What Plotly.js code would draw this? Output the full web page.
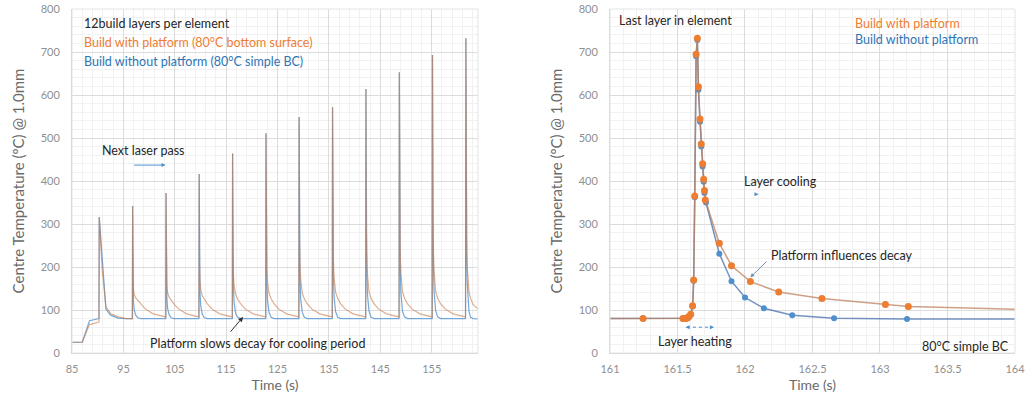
<!DOCTYPE html>
<html>
<head>
<meta charset="utf-8">
<script src="https://cdn.plot.ly/plotly-3.0.1.min.js"></script>
<style>
html,body{margin:0;padding:0;background:#fff;}
#chart{width:1026px;height:398px;}
</style>
</head>
<body>
<div id="chart"></div>
<script>
// ---------- Left chart: full build (12 layers) ----------
const leftTime = [
  85, 87, 88.4, 89.0, 89.8, 90.25,
  90.3, 90.6, 90.9, 91.6, 92.5, 94.0, 95.5,
  96.75, 96.8, 96.86, 96.96, 97.1, 97.4, 97.8, 98.4, 99.3, 100.8,
  103.25, 103.3, 103.36, 103.46, 103.6, 103.9, 104.3, 104.9, 105.8, 107.3,
  109.7, 109.75, 109.81, 109.91, 110.05, 110.35, 110.75, 111.35, 112.25, 113.75,
  116.2, 116.25, 116.31, 116.41, 116.55, 116.85, 117.25, 117.85, 118.75, 120.25,
  122.7, 122.75, 122.81, 122.91, 123.05, 123.35, 123.75, 124.35, 125.25, 126.75,
  129.15, 129.2, 129.26, 129.36, 129.5, 129.8, 130.2, 130.8, 131.7, 133.2,
  135.65, 135.7, 135.76, 135.86, 136.0, 136.3, 136.7, 137.3, 138.2, 139.7,
  142.15, 142.2, 142.26, 142.36, 142.5, 142.8, 143.2, 143.8, 144.7, 146.2,
  148.65, 148.7, 148.76, 148.86, 149.0, 149.3, 149.7, 150.3, 151.2, 152.7,
  155.1, 155.15, 155.21, 155.31, 155.45, 155.75, 156.15, 156.75, 157.65, 159.15,
  161.58, 161.65, 161.71, 161.81, 161.9, 162.04, 162.25, 162.57, 163.04, 164.3
];
const leftWithPlatform = [
  25, 25, 66, 68, 70, 72,
  316, 240, 190, 108, 92, 84, 80,
  80, 342, 172, 148, 136, 128, 122, 113, 102, 91,
  84, 372, 186, 156, 140, 130, 123, 113, 102, 91,
  84, 416, 205, 168, 148, 133, 124, 114, 102, 91,
  84, 464, 228, 182, 157, 136, 125, 114, 102, 91,
  84, 511, 250, 196, 165, 139, 126, 114, 102, 91,
  84, 549, 268, 210, 172, 140, 126, 114, 102, 91,
  84, 572, 280, 218, 176, 141, 127, 114, 102, 91,
  84, 614, 300, 230, 182, 142, 127, 114, 102, 91,
  84, 653, 318, 240, 187, 143, 127, 114, 102, 91,
  84, 693, 338, 248, 193, 144, 127, 114, 102, 91,
  84, 732, 356, 255, 203, 166, 142, 127, 113, 99
];
const leftWithoutPlatform = [
  25, 25, 75, 77, 78, 80,
  316, 262, 225, 102, 88, 81, 80,
  80, 342, 168, 120, 100, 88, 82, 80, 80, 80,
  80, 372, 180, 128, 104, 89, 82, 80, 80, 80,
  80, 416, 200, 140, 110, 90, 82, 80, 80, 80,
  80, 464, 222, 152, 116, 92, 83, 80, 80, 80,
  80, 511, 245, 165, 122, 94, 83, 80, 80, 80,
  80, 549, 262, 176, 127, 95, 83, 80, 80, 80,
  80, 572, 274, 182, 130, 96, 83, 80, 80, 80,
  80, 614, 294, 195, 136, 97, 83, 80, 80, 80,
  80, 653, 312, 208, 141, 98, 84, 80, 80, 80,
  80, 693, 332, 220, 146, 99, 84, 80, 80, 80,
  80, 732, 350, 231, 167, 125, 97, 83, 80, 79
];

// ---------- Right chart: last layer in element ----------
const rightTimeWith = [160.9, 161.245, 161.54, 161.555, 161.565, 161.575, 161.585, 161.598, 161.612, 161.62, 161.628, 161.638, 161.647, 161.655, 161.667, 161.676, 161.686, 161.694, 161.700, 161.706, 161.81, 161.90, 162.04, 162.25, 162.57, 163.04, 163.21, 164.3];
const rightTempWith = [80, 80, 80, 80, 81, 82, 85, 90, 110, 170, 365, 695, 732, 619, 544, 486, 440, 404, 378, 356, 255, 203, 166, 142, 127, 113, 108, 99];
const rightTimeWithout = [160.9, 161.245, 161.54, 161.555, 161.565, 161.575, 161.585, 161.598, 161.612, 161.62, 161.628, 161.638, 161.647, 161.655, 161.667, 161.676, 161.686, 161.694, 161.700, 161.711, 161.81, 161.90, 162.0, 162.14, 162.35, 162.66, 163.2, 164.3];
const rightTempWithout = [80, 80, 80, 80, 80, 81, 84, 89, 108, 168, 362, 690, 728, 612, 538, 480, 434, 398, 372, 350, 231, 167, 129, 104, 88, 81, 79, 79];

const leftTicks = [85, 95, 105, 115, 125, 135, 145, 155];
const rightTicks = [161, 161.5, 162, 162.5, 163, 163.5, 164];
const yTicks = [0, 100, 200, 300, 400, 500, 600, 700, 800];

const FONT = 'Lato, "Open Sans", sans-serif';
const ORANGE = '#ED7D31';
const BLUE = '#4F8FCB';
const TXT = '#262626';

const traces = [
  {x: leftTime, y: leftWithoutPlatform, xaxis: 'x', yaxis: 'y', mode: 'lines', name: 'Build without platform',
   line: {color: 'rgba(70,140,205,0.75)', width: 1.2}},
  {x: leftTime, y: leftWithPlatform, xaxis: 'x', yaxis: 'y', mode: 'lines', name: 'Build with platform',
   line: {color: 'rgba(200,120,70,0.6)', width: 1.2}},
  {x: rightTimeWithout, y: rightTempWithout, xaxis: 'x2', yaxis: 'y2', mode: 'lines+markers', name: 'Build without platform',
   line: {color: 'rgba(70,110,170,0.75)', width: 1.5}, marker: {color: BLUE, size: 6}},
  {x: rightTimeWith, y: rightTempWith, xaxis: 'x2', yaxis: 'y2', mode: 'lines+markers', name: 'Build with platform',
   line: {color: 'rgba(190,130,95,0.75)', width: 1.5}, marker: {color: ORANGE, size: 7}}
];

const axisCommon = {
  showgrid: true, gridcolor: '#dcdcdc', gridwidth: 1,
  zeroline: false, ticks: '', tickfont: {family: FONT, size: 11, color: '#8f8f8f'},
  linecolor: '#d0d0d0', fixedrange: true
};

const layout = {
  width: 1026, height: 398,
  margin: {l: 72, r: 11, t: 9, b: 45},
  paper_bgcolor: '#ffffff', plot_bgcolor: '#ffffff',
  showlegend: false,
  font: {family: FONT, color: TXT},
  xaxis: Object.assign({}, axisCommon, {
    domain: [0, 0.4305], range: [85, 164], tickmode: 'array', tickvals: leftTicks,
    minor: {showgrid: true, gridcolor: '#f1f1f1', dtick: 2, tick0: 85},
    showline: true, ticklabelstandoff: 6,
    title: {text: 'Time (s)', font: {family: FONT, size: 14, color: '#6a6a6a'}, standoff: 5}
  }),
  yaxis: Object.assign({}, axisCommon, {
    domain: [0, 1], range: [0, 800], tickmode: 'array', tickvals: yTicks,
    minor: {showgrid: true, gridcolor: '#f1f1f1', dtick: 20},
    ticklabelstandoff: 9,
    title: {text: 'Centre Temperature (ºC) @ 1.0mm', font: {family: FONT, size: 15, color: '#6a6a6a'}, standoff: 12}
  }),
  xaxis2: Object.assign({}, axisCommon, {
    domain: [0.5705, 1], range: [161, 164], tickmode: 'array', tickvals: rightTicks,
    minor: {showgrid: true, gridcolor: '#f1f1f1', dtick: 0.1, tick0: 161},
    showline: true, anchor: 'y2', ticklabelstandoff: 6,
    title: {text: 'Time (s)', font: {family: FONT, size: 14, color: '#6a6a6a'}, standoff: 5}
  }),
  yaxis2: Object.assign({}, axisCommon, {
    domain: [0, 1], range: [0, 800], tickmode: 'array', tickvals: yTicks, anchor: 'x2',
    minor: {showgrid: true, gridcolor: '#f1f1f1', dtick: 20},
    ticklabelstandoff: 9,
    title: {text: 'Centre Temperature (ºC) @ 1.0mm', font: {family: FONT, size: 15, color: '#6a6a6a'}, standoff: 12}
  }),
  annotations: [
    // left chart texts
    {xref: 'x', yref: 'y', x: 86.9, y: 767, text: '12build layers per element', showarrow: false, xanchor: 'left', font: {size: 12.5, color: TXT}},
    {xref: 'x', yref: 'y', x: 86.9, y: 723, text: 'Build with platform (80°C bottom surface)', showarrow: false, xanchor: 'left', font: {size: 12.5, color: ORANGE}},
    {xref: 'x', yref: 'y', x: 86.9, y: 679, text: 'Build without platform (80°C simple BC)', showarrow: false, xanchor: 'left', font: {size: 12.5, color: '#2E75B6'}},
    {xref: 'x', yref: 'y', x: 90.4, y: 472, text: 'Next laser pass', showarrow: false, xanchor: 'left', font: {size: 12.5, color: TXT}},
    {xref: 'x', yref: 'y', axref: 'x', ayref: 'y', x: 103.2, y: 437, ax: 96.8, ay: 437, text: '', showarrow: true,
     arrowhead: 2, arrowsize: 0.8, arrowwidth: 1, arrowcolor: '#4F8FCB'},
    {xref: 'x', yref: 'y', x: 99.8, y: 23, text: 'Platform slows decay for cooling period', showarrow: false, xanchor: 'left', font: {size: 12.5, color: TXT}},
    {xref: 'x', yref: 'y', axref: 'x', ayref: 'y', x: 118.3, y: 84, ax: 115.6, ay: 46, text: '', showarrow: true,
     arrowhead: 2, arrowsize: 1, arrowwidth: 1, arrowcolor: '#333333'},
    // right chart texts
    {xref: 'x2', yref: 'y2', x: 161.05, y: 774, text: 'Last layer in element', showarrow: false, xanchor: 'left', font: {size: 12.5, color: TXT}},
    {xref: 'x2', yref: 'y2', x: 162.8, y: 767, text: 'Build with platform', showarrow: false, xanchor: 'left', font: {size: 12.5, color: ORANGE}},
    {xref: 'x2', yref: 'y2', x: 162.8, y: 728, text: 'Build without platform', showarrow: false, xanchor: 'left', font: {size: 12.5, color: '#2E75B6'}},
    {xref: 'x2', yref: 'y2', x: 161.98, y: 400, text: 'Layer cooling', showarrow: false, xanchor: 'left', font: {size: 12.5, color: TXT}},
    {xref: 'x2', yref: 'y2', axref: 'x2', ayref: 'y2', x: 162.1, y: 369, ax: 162.06, ay: 369, text: '', showarrow: true,
     arrowhead: 2, arrowsize: 0.8, arrowwidth: 1, arrowcolor: '#4F8FCB'},
    {xref: 'x2', yref: 'y2', x: 162.18, y: 226, text: 'Platform influences decay', showarrow: false, xanchor: 'left', font: {size: 12.5, color: TXT}},
    {xref: 'x2', yref: 'y2', axref: 'x2', ayref: 'y2', x: 162.04, y: 176, ax: 162.17, ay: 216, text: '', showarrow: true,
     arrowhead: 2, arrowsize: 0.8, arrowwidth: 1, arrowcolor: '#6f8fb0'},
    {xref: 'x2', yref: 'y2', x: 161.34, y: 26, text: 'Layer heating', showarrow: false, xanchor: 'left', font: {size: 12.5, color: TXT}},
    {xref: 'x2', yref: 'y2', axref: 'x2', ayref: 'y2', x: 161.56, y: 60, ax: 161.6, ay: 60, text: '', showarrow: true,
     arrowhead: 2, arrowsize: 0.8, arrowwidth: 1, arrowcolor: '#4F8FCB'},
    {xref: 'x2', yref: 'y2', axref: 'x2', ayref: 'y2', x: 161.77, y: 60, ax: 161.73, ay: 60, text: '', showarrow: true,
     arrowhead: 2, arrowsize: 0.8, arrowwidth: 1, arrowcolor: '#4F8FCB'},
    {xref: 'x2', yref: 'y2', x: 163.3, y: 16, text: '80°C simple BC', showarrow: false, xanchor: 'left', font: {size: 12.5, color: TXT}}
  ],
  shapes: [
    {type: 'line', xref: 'x2', yref: 'y2', x0: 161.57, x1: 161.76, y0: 60, y1: 60,
     line: {color: '#4F8FCB', width: 1, dash: 'dot'}},
    {type: 'rect', xref: 'x domain', yref: 'y domain', x0: 0, x1: 1, y0: 0, y1: 1, line: {color: '#e4e4e4', width: 1}},
    {type: 'rect', xref: 'x2 domain', yref: 'y2 domain', x0: 0, x1: 1, y0: 0, y1: 1, line: {color: '#e4e4e4', width: 1}}
  ]
};

Plotly.newPlot('chart', traces, layout, {staticPlot: true, displayModeBar: false});
</script>
</body>
</html>
